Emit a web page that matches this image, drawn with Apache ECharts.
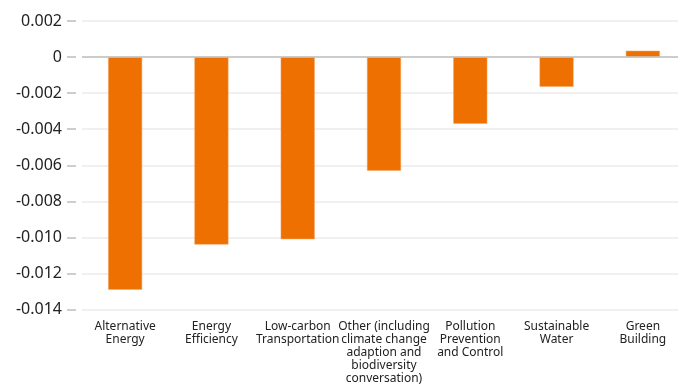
<!DOCTYPE html>
<html>
<head>
<meta charset="utf-8">
<script src="https://cdn.jsdelivr.net/npm/echarts@6/dist/echarts.min.js"></script>
<style>
  html, body { margin: 0; padding: 0; background: #ffffff; }
  #chart { width: 678px; height: 387px; }
</style>
</head>
<body>
<div id="chart"></div>
<script>
// Categories and values
const categories = [
  'Alternative\nEnergy',
  'Energy\nEfficiency',
  'Low-carbon\nTransportation',
  'Other (including\nclimate change\nadaption and\nbiodiversity\nconversation)',
  'Pollution\nPrevention\nand Control',
  'Sustainable\nWater',
  'Green\nBuilding'
];
const values = [-0.0129, -0.0104, -0.0101, -0.0063, -0.0037, -0.00165, 0.00035];

// Value axis range
const yMin = -0.014;
const yMax = 0.002;
const yStep = 0.002;

const chart = echarts.init(document.getElementById('chart'), null, { renderer: 'canvas' });

const font = 'Noto Sans';

chart.setOption({
  animation: false,
  grid: {
    left: 82, top: 21, width: 604, bottom: 77.5,
    containLabel: false,
    outerBoundsMode: 'none'
  },
  xAxis: {
    type: 'category',
    data: categories,
    axisLine: { show: false },
    axisTick: { show: false },
    axisLabel: {
      interval: 0,
      margin: 11,
      color: '#222222',
      fontFamily: font,
      fontSize: 12,
      lineHeight: 13
    }
  },
  yAxis: {
    type: 'value',
    min: yMin,
    max: yMax,
    interval: yStep,
    offset: 6,
    axisLine: { show: false },
    axisTick: { show: true, length: 9, lineStyle: { color: '#bdbdbd', width: 1.5 } },
    axisLabel: {
      margin: 14,
      color: '#222222',
      fontFamily: font,
      fontSize: 16,
      formatter: v => (Math.abs(v) < 1e-12 ? '0' : v.toFixed(3))
    },
    splitLine: { show: true, lineStyle: { color: '#ebebeb', width: 1.5 } }
  },
  series: [{
    type: 'bar',
    data: values,
    barWidth: 34,
    itemStyle: { color: '#ED7000', borderColor: '#F5A562', borderWidth: 0.5 },
    markLine: {
      silent: true,
      symbol: 'none',
      label: { show: false },
      lineStyle: { color: '#c0c0c0', width: 1.5, type: 'solid' },
      data: [{ yAxis: 0 }]
    }
  }]
});
</script>
</body>
</html>
